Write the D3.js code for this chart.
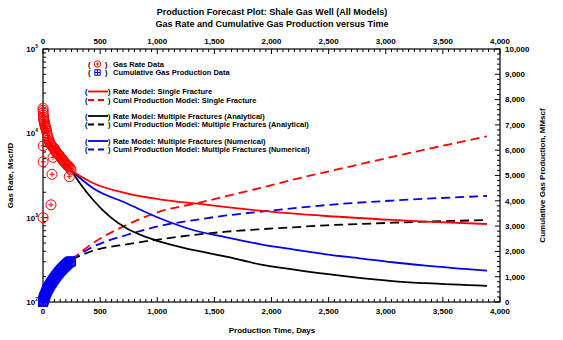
<!DOCTYPE html>
<html>
<head>
<meta charset="utf-8">
<script src="https://cdn.jsdelivr.net/npm/d3@7"></script>
<style>
body { margin: 0; background: #fff; }
text { font-family: Arial, "Liberation Sans", sans-serif; font-weight: bold; fill: #000; }
</style>
</head>
<body>
<div id="chart"></div>
<script>
let width = 563
let height = 340
let plotLeft = 43, plotRight = 500, plotTop = 49, plotBottom = 302

// measured gas rate (Mscf/D)
let rateDays = [0.5, 1, 2, 3, 5, 7, 9, 11, 14, 17, 20, 23, 26, 30, 35, 40, 45, 50, 55, 60, 65, 70, 77, 85, 92, 99,
  106, 113, 120, 128, 135, 142, 150, 158, 165, 172, 179, 186, 193, 200, 208, 215, 222, 230, 238, 245,
  1, 1, 1, 79, 70, 230, 88]
let rateValues = [19800, 18800, 17600, 16500, 15500, 14600, 14000, 13700, 13000, 12400, 12000, 11700, 11400, 10800,
  10000, 9400, 8900, 8400, 8000, 7700, 7500, 7300, 7100, 6900, 6700, 6600, 6300, 6100, 5900, 5750, 5600, 5500,
  5300, 5100, 4950, 4850, 4700, 4600, 4450, 4350, 4250, 4150, 4100, 4000, 3850, 3680,
  7100, 4600, 1000, 3270, 1420, 3060, 5200]

// measured cumulative gas (MMscf)
let cumDays = [0, 2, 4, 6, 8, 10, 13, 16, 20, 25, 30, 35, 40, 45, 50, 55, 60, 66, 72, 78, 85, 92, 99, 106, 113,
  120, 128, 135, 142, 150, 158, 165, 172, 179, 186, 193, 200, 208, 215, 222, 230, 238, 245]
let cumValues = [0, 38, 72, 104, 134, 162, 202, 240, 288, 345, 398, 448, 495, 538, 580, 620, 658, 702, 745, 787,
  834, 881, 926, 970, 1013, 1054, 1100, 1140, 1178, 1221, 1262, 1297, 1331, 1364, 1397, 1428, 1459, 1493,
  1522, 1551, 1575, 1595, 1610]

// model curves
let singleRateDays = [250, 437, 731, 1022, 1371, 1895, 2478, 3057, 3351, 3886]
let singleRate = [3600, 2580, 1945, 1652, 1454, 1211, 1047, 940, 897, 841]
let singleCumDays = [250, 439, 731, 1022, 1371, 1604, 1895, 2186, 2478, 2769, 3059, 3351, 3650, 3886]
let singleCum = [1680, 2330, 3043, 3569, 3930, 4180, 4500, 4830, 5140, 5440, 5740, 6030, 6320, 6550]

let analyticRateDays = [250, 323, 439, 585, 731, 876, 1022, 1313, 1604, 1895, 2186, 2478, 2769, 3059, 3351, 3886]
let analyticRate = [3600, 2560, 1620, 1028, 748, 607, 519, 414, 345, 280, 244, 215, 193, 177, 167, 155]
let analyticCumDays = [250, 439, 731, 1022, 1313, 1604, 1895, 2186, 2478, 2769, 3059, 3351, 3886]
let analyticCum = [1680, 2030, 2280, 2478, 2648, 2779, 2873, 2952, 3032, 3083, 3134, 3174, 3241]

let numericRateDays = [250, 439, 731, 1022, 1313, 1604, 1895, 2186, 2478, 2769, 3059, 3351, 3886]
let numericRate = [3600, 2234, 1483, 984, 714, 585, 487, 421, 368, 330, 296, 270, 235]
let numericCumDays = [250, 439, 731, 1022, 1313, 1604, 1954, 2478, 3059, 3886]
let numericCum = [1680, 2186, 2648, 3004, 3230, 3420, 3590, 3830, 4010, 4190]

let xTicks = [0, 500, 1000, 1500, 2000, 2500, 3000, 3500, 4000]
let cumTicks = [0, 1000, 2000, 3000, 4000, 5000, 6000, 7000, 8000, 9000, 10000]
let decades = [2, 3, 4, 5]

let legendItems = [
  { kind: 'circle', label: 'Gas Rate Data' },
  { kind: 'square', label: 'Cumulative Gas Production Data' },
  { kind: 'line', color: 'red', dash: null, label: 'Rate Model: Single Fracture' },
  { kind: 'line', color: 'red', dash: '6,4', label: 'Cuml Production Model: Single Fracture' },
  { kind: 'line', color: 'black', dash: null, label: 'Rate Model: Multiple Fractures (Analytical)' },
  { kind: 'line', color: 'black', dash: '6,4', label: 'Cuml Production Model: Multiple Fractures (Analytical)' },
  { kind: 'line', color: 'blue', dash: null, label: 'Rate Model: Multiple Fractures (Numerical)' },
  { kind: 'line', color: 'blue', dash: '6,4', label: 'Cuml Production Model: Multiple Fractures (Numerical)' }
]
let legendRows = [64, 72.5, 91.5, 100, 116, 124.5, 141, 149.5]

let colors = { red: '#ff0000', blue: '#0000ee', black: '#000000' }

let x = d3.scaleLinear().domain([0, 4000]).range([plotLeft, plotRight])
let y = d3.scaleLog().domain([100, 100000]).range([plotBottom, plotTop])
let y2 = d3.scaleLinear().domain([0, 10000]).range([plotBottom, plotTop])

let svg = d3.select('#chart')
  .append('svg')
  .attr('width', width)
  .attr('height', height)

// titles
svg.append('text')
  .attr('x', 272).attr('y', 15)
  .attr('text-anchor', 'middle')
  .style('font-size', '9px')
  .text('Production Forecast Plot: Shale Gas Well (All Models)')
svg.append('text')
  .attr('x', 272).attr('y', 27)
  .attr('text-anchor', 'middle')
  .style('font-size', '9px')
  .text('Gas Rate and Cumulative Gas Production versus Time')

// frame
svg.append('rect')
  .attr('x', plotLeft).attr('y', plotTop)
  .attr('width', plotRight - plotLeft).attr('height', plotBottom - plotTop)
  .attr('fill', 'none').attr('stroke', '#000').attr('stroke-width', 1.2)

let ticks = svg.append('g').attr('stroke', '#000').attr('stroke-width', 1)

// x ticks (top and bottom, inward)
d3.range(0, 4001, 50).forEach(t => {
  let len = t % 500 === 0 ? 5 : 3
  ticks.append('line').attr('x1', x(t)).attr('x2', x(t)).attr('y1', plotTop).attr('y2', plotTop + len)
  ticks.append('line').attr('x1', x(t)).attr('x2', x(t)).attr('y1', plotBottom).attr('y2', plotBottom - len)
})

// left log ticks
decades.forEach(p => {
  if (p < 5) {
    for (let m = 2; m <= 9; m++) {
      let v = m * Math.pow(10, p)
      ticks.append('line').attr('x1', plotLeft).attr('x2', plotLeft + 3).attr('y1', y(v)).attr('y2', y(v))
    }
  }
  ticks.append('line').attr('x1', plotLeft).attr('x2', plotLeft + 5)
    .attr('y1', y(Math.pow(10, p))).attr('y2', y(Math.pow(10, p)))
})

// right linear ticks
d3.range(0, 10001, 200).forEach(v => {
  let len = v % 1000 === 0 ? 5 : 3
  ticks.append('line').attr('x1', plotRight).attr('x2', plotRight - len).attr('y1', y2(v)).attr('y2', y2(v))
})

// tick labels
svg.selectAll('.xtop').data(xTicks).join('text')
  .attr('x', d => x(d)).attr('y', plotTop - 5)
  .attr('text-anchor', 'middle').style('font-size', '8px')
  .text(d => d3.format(',')(d))
svg.selectAll('.xbot').data(xTicks).join('text')
  .attr('x', d => x(d)).attr('y', plotBottom + 12)
  .attr('text-anchor', 'middle').style('font-size', '8px')
  .text(d => d3.format(',')(d))
svg.selectAll('.ycum').data(cumTicks).join('text')
  .attr('x', plotRight + 5).attr('y', d => y2(d)).attr('dy', '0.35em')
  .style('font-size', '8px')
  .text(d => d3.format(',')(d))

let decadeLabel = svg.selectAll('.ylog').data(decades).join('text')
  .attr('x', plotLeft - 5).attr('y', d => y(Math.pow(10, d)) + 3)
  .attr('text-anchor', 'end').style('font-size', '8px')
decadeLabel.append('tspan').text('10')
decadeLabel.append('tspan').attr('dy', -4).style('font-size', '5px').text(d => d)

// axis titles
svg.append('text')
  .attr('transform', `translate(13,${(plotTop + plotBottom) / 2}) rotate(-90)`)
  .attr('text-anchor', 'middle').style('font-size', '8px')
  .text('Gas Rate, Mscf/D')
svg.append('text')
  .attr('transform', `translate(545,${(plotTop + plotBottom) / 2}) rotate(-90)`)
  .attr('text-anchor', 'middle').style('font-size', '8px')
  .text('Cumulative Gas Production, MMscf')
svg.append('text')
  .attr('x', 272).attr('y', 333)
  .attr('text-anchor', 'middle').style('font-size', '8px')
  .text('Production Time, Days')

let plot = svg.append('g')

function zip(a, b) { return a.map((d, i) => [d, b[i]]) }

let rateLine = d3.line().x(d => x(d[0])).y(d => y(d[1])).curve(d3.curveMonotoneX)
let cumLine = d3.line().x(d => x(d[0])).y(d => y2(d[1])).curve(d3.curveMonotoneX)

let models = [
  { data: zip(analyticCumDays, analyticCum), line: cumLine, color: 'black', dash: '9,5' },
  { data: zip(numericCumDays, numericCum), line: cumLine, color: 'blue', dash: '9,5' },
  { data: zip(singleCumDays, singleCum), line: cumLine, color: 'red', dash: '9,5' },
  { data: zip(analyticRateDays, analyticRate), line: rateLine, color: 'black', dash: null },
  { data: zip(numericRateDays, numericRate), line: rateLine, color: 'blue', dash: null },
  { data: zip(singleRateDays, singleRate), line: rateLine, color: 'red', dash: null }
]

plot.selectAll('path.model').data(models).join('path')
  .attr('class', 'model')
  .attr('d', d => d.line(d.data))
  .attr('fill', 'none')
  .attr('stroke', d => colors[d.color])
  .attr('stroke-width', 1.8)
  .attr('stroke-dasharray', d => d.dash)

// markers
function squareMark(g, s) {
  g.append('rect').attr('x', -s).attr('y', -s).attr('width', 2 * s).attr('height', 2 * s)
    .attr('fill', 'none').attr('stroke', colors.blue).attr('stroke-width', 1)
  g.append('path').attr('d', `M${-s},0H${s}M0,${-s}V${s}`).attr('stroke', colors.blue).attr('stroke-width', 1)
}
function circleMark(g, r) {
  g.append('circle').attr('r', r).attr('fill', 'none').attr('stroke', colors.red).attr('stroke-width', 1)
  g.append('path').attr('d', `M${-r * 0.5},0H${r * 0.5}M0,${-r * 0.5}V${r * 0.5}`).attr('stroke', colors.red).attr('stroke-width', 1)
}

plot.selectAll('g.cum').data(zip(cumDays, cumValues)).join('g')
  .attr('class', 'cum')
  .attr('transform', d => `translate(${x(d[0])},${y2(d[1])})`)
  .each(function () { squareMark(d3.select(this), 4.5) })

plot.selectAll('g.rate').data(zip(rateDays, rateValues)).join('g')
  .attr('class', 'rate')
  .attr('transform', d => `translate(${x(d[0])},${y(d[1])})`)
  .each(function () { circleMark(d3.select(this), 5) })

// legend
let legend = svg.append('g')
legendItems.forEach((item, i) => {
  let row = legend.append('g').attr('transform', `translate(0,${legendRows[i]})`)
  row.append('text').attr('x', item.kind === 'line' ? 85 : 88).attr('y', 2.7).style('font-size', '7.5px').text('(')
  row.append('text').attr('x', item.kind === 'line' ? 108 : 105).attr('y', 2.7).style('font-size', '7.5px').text(')')
  if (item.kind === 'circle') {
    let m = row.append('g').attr('transform', 'translate(97.5,0)')
    circleMark(m, 3.2)
  } else if (item.kind === 'square') {
    let m = row.append('g').attr('transform', 'translate(97.5,0)')
    squareMark(m, 2.7)
  } else {
    row.append('line').attr('x1', 88).attr('x2', 108).attr('y1', 0).attr('y2', 0)
      .attr('stroke', colors[item.color]).attr('stroke-width', 1.8)
      .attr('stroke-dasharray', item.dash)
  }
  row.append('text').attr('x', 113).attr('y', 2.7).style('font-size', '7.5px').text(item.label)
})
</script>
</body>
</html>
